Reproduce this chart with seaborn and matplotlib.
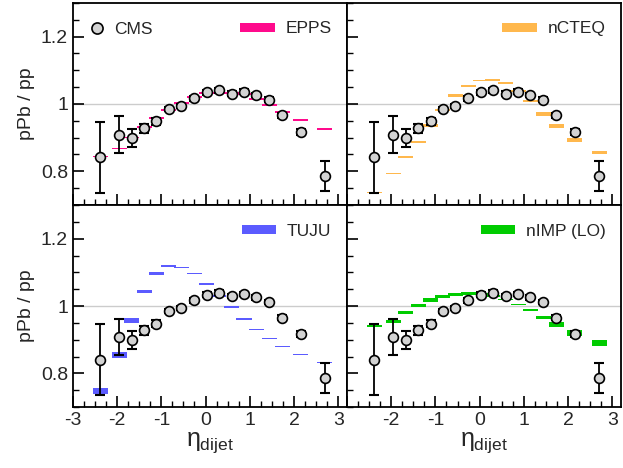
import numpy as np
import pandas as pd
import matplotlib
matplotlib.use('Agg')
import matplotlib.pyplot as plt
import seaborn as sns
from matplotlib.patches import Patch
from matplotlib.lines import Line2D
from matplotlib.ticker import MultipleLocator, FuncFormatter

# CMS data points
eta = [-2.38, -1.95, -1.67, -1.39, -1.11, -0.83, -0.55, -0.26, 0.03, 0.30,
       0.59, 0.87, 1.15, 1.44, 1.73, 2.15, 2.70]
cms = [0.841, 0.909, 0.899, 0.928, 0.948, 0.985, 0.994, 1.017, 1.034, 1.040,
       1.030, 1.036, 1.026, 1.012, 0.966, 0.917, 0.786]
cms_err = [0.106, 0.054, 0.027, 0.013, 0.011, 0.007, 0.007, 0.007, 0.007, 0.007,
           0.007, 0.007, 0.007, 0.007, 0.008, 0.008, 0.044]

# theory predictions (central value, half band height)
epps = [0.843, 0.868, 0.901, 0.931, 0.958, 0.982, 1.002, 1.020, 1.031, 1.033,
        1.031, 1.029, 1.015, 0.996, 0.976, 0.951, 0.926]
epps_unc = [0.002, 0.002, 0.002, 0.003, 0.003, 0.003, 0.003, 0.003, 0.003, 0.003,
            0.003, 0.003, 0.003, 0.003, 0.003, 0.003, 0.003]
ncteq = [0.737, 0.794, 0.842, 0.887, 0.935, 0.982, 1.024, 1.053, 1.069, 1.071,
         1.062, 1.038, 1.009, 0.970, 0.935, 0.894, 0.855]
ncteq_unc = [0.002, 0.002, 0.003, 0.004, 0.004, 0.004, 0.004, 0.003, 0.002, 0.002,
             0.002, 0.003, 0.004, 0.005, 0.006, 0.006, 0.005]
tuju = [0.748, 0.855, 0.957, 1.044, 1.096, 1.118, 1.115, 1.096, 1.065, 1.030,
        0.996, 0.962, 0.930, 0.903, 0.880, 0.856, 0.832]
tuju_unc = [0.010, 0.009, 0.007, 0.004, 0.004, 0.003, 0.002, 0.002, 0.002, 0.002,
            0.003, 0.003, 0.002, 0.002, 0.002, 0.001, 0.001]
nimp = [0.942, 0.954, 0.980, 1.001, 1.018, 1.028, 1.035, 1.038, 1.035, 1.030,
        1.020, 1.004, 0.988, 0.967, 0.946, 0.920, 0.890]
nimp_unc = [0.003, 0.004, 0.005, 0.005, 0.005, 0.005, 0.005, 0.004, 0.003, 0.002,
            0.002, 0.002, 0.004, 0.005, 0.007, 0.008, 0.009]

models = [('EPPS', epps, epps_unc, '#ff0a8c'),
          ('nCTEQ', ncteq, ncteq_unc, '#ffb84d'),
          ('TUJU', tuju, tuju_unc, '#5b5bff'),
          ('nIMP (LO)', nimp, nimp_unc, '#00cc00')]

df = pd.DataFrame({'eta': eta, 'ratio': cms, 'err': cms_err})

sns.set_style('ticks')
plt.rcParams['font.family'] = ['Liberation Sans', 'DejaVu Sans']
plt.rcParams['mathtext.fontset'] = 'custom'
plt.rcParams['mathtext.rm'] = 'Liberation Sans'
plt.rcParams['mathtext.it'] = 'Liberation Sans'

fig, axes = plt.subplots(2, 2, figsize=(6.23, 4.68), dpi=100)
fig.subplots_adjust(left=0.117, right=0.997, top=0.994, bottom=0.130, wspace=0, hspace=0)


def fmt_all(v, p):
    return '%g' % round(v, 2)


def fmt_no_m3(v, p):
    # the -3 of the right panels would collide with the 3 of the left ones
    return '' if v < -2.5 else '%g' % round(v, 2)


for i, ax in enumerate(axes.flat):
    name, vals, unc, col = models[i]
    vals = np.array(vals)
    unc = np.array(unc)

    ax.axhline(1, color='#cccccc', lw=1, zorder=1)

    # theory bands as floating bars
    ax.bar(eta, 2 * unc, bottom=vals - unc, width=0.34, color=col, linewidth=0, zorder=2)

    # CMS points
    ax.errorbar(df['eta'], df['ratio'], yerr=df['err'], fmt='none', ecolor='black',
                elinewidth=1.3, capsize=3.5, capthick=1.5, zorder=3)
    sns.scatterplot(data=df, x='eta', y='ratio', ax=ax, s=50, color='#d3d3d3',
                    edgecolor='black', linewidth=1.2, zorder=4, legend=False)

    ax.set_xlabel('')
    ax.set_ylabel('')

    leg = ax.legend(handles=[Patch(facecolor=col, edgecolor='none', label=name)],
                    loc='upper right', bbox_to_anchor=(1.0, 0.985), frameon=False,
                    fontsize=12.5, handlelength=2.0, handleheight=0.45,
                    handletextpad=0.6, borderaxespad=0.5)
    if i == 0:
        ax.add_artist(leg)
        ax.legend(handles=[Line2D([], [], marker='o', ls='none', markersize=8,
                                  markerfacecolor='#d3d3d3', markeredgecolor='black',
                                  markeredgewidth=1.2, label='CMS')],
                  loc='upper left', bbox_to_anchor=(0.0, 0.985), frameon=False,
                  fontsize=12.5, handlelength=1.0, handletextpad=0.5, borderaxespad=0.5)

for ax in axes[:, 0]:
    ax.set_ylabel('pPb / pp', fontsize=14)
for ax in axes[1, :]:
    ax.set_xlabel(r'$\eta_{\rm dijet}$', fontsize=18, labelpad=1)

# axes, ticks and frames last
for i, ax in enumerate(axes.flat):
    ax.set_axisbelow(False)
    ax.set_xlim(-3.0, 3.2)
    ax.set_ylim(0.7, 1.3)
    ax.xaxis.set_major_locator(MultipleLocator(1))
    ax.xaxis.set_minor_locator(MultipleLocator(0.25))
    ax.yaxis.set_major_locator(MultipleLocator(0.2))
    ax.yaxis.set_minor_locator(MultipleLocator(0.05))
    ax.yaxis.set_major_formatter(FuncFormatter(fmt_all))
    ax.xaxis.set_major_formatter(FuncFormatter(fmt_all if i % 2 == 0 else fmt_no_m3))
    ax.tick_params(which='both', direction='in', top=False, right=False, color='black')
    ax.tick_params(which='major', length=8, width=1.2, labelsize=14)
    ax.tick_params(which='minor', length=4.5, width=1.0)
    for sp in ax.spines.values():
        sp.set_linewidth(1.3)
        sp.set_color('black')
        sp.set_visible(True)
    if i < 2:
        ax.tick_params(labelbottom=False)
    if i % 2 == 1:
        ax.tick_params(labelleft=False)

fig.savefig('out.png', dpi=100)
